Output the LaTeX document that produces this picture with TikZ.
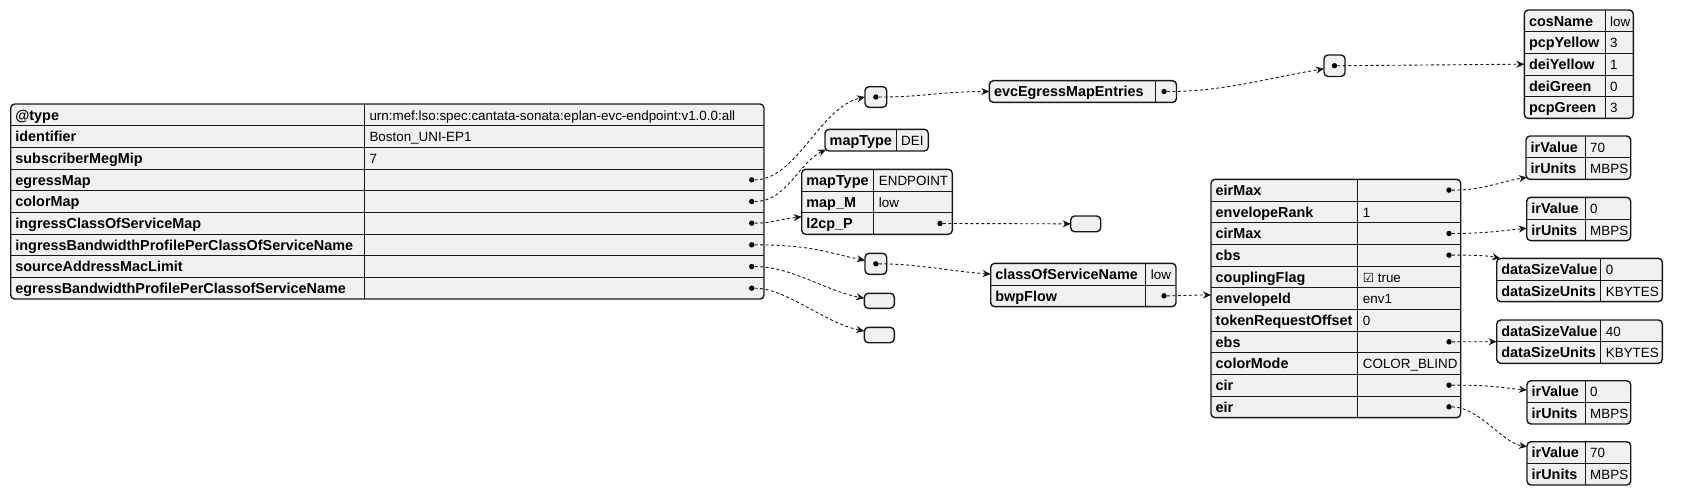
\documentclass[tikz,border=0pt]{standalone}
\usepackage{fontspec}
\setmainfont{Liberation Sans}
\newfontfamily\symfont{DejaVu Sans}
\usetikzlibrary{arrows.meta,calc}
\definecolor{jfill}{HTML}{F1F1F1}
\definecolor{jline}{HTML}{181818}
\newcount\jn
\newcommand\jtab[6]{% name, x0, y0, x1, xdiv, rows
  \pgfmathsetmacro\jH{#6*21.67}%
  \pgfmathsetmacro\jW{#4-#2}%
  \node[tbl, minimum width=\jW pt, minimum height=\jH pt] (#1) at (#2,#3) {};%
  \ifnum#6>1
    \foreach \i in {2,...,#6}{\draw[inl] (#2,{#3+(\i-1)*21.67}) -- (#4,{#3+(\i-1)*21.67});}%
  \fi
  \draw[inl] (#5,#3) -- (#5,{#3+\jH});%
}
\newcommand\jkv[6]{% x0, xdiv, y0, row, key, value
  \global\advance\jn by 1
  \node[keyt] (k\the\jn) at ({#1+4.5},{#3+#4*21.67-5.6}) {#5};%
  \node[valt] (v\the\jn) at ({#2+5},{#3+#4*21.67-5.6}) {#6};%
}
\newcommand\jdot[4]{\node[dotn] (#1) at (#2,{#3+#4*21.67-10.83}) {};}
\begin{document}
\begin{tikzpicture}[x=1pt,y=-1pt,
  tbl/.style={draw=jline, fill=jfill, line width=1.4pt, rounded corners=4pt, anchor=north west, inner sep=0pt, outer sep=0pt},
  inl/.style={draw=jline, line width=0.9pt},
  keyt/.style={font=\bfseries\fontsize{14.4}{16}\selectfont, anchor=base west, inner sep=0pt, text=black},
  valt/.style={font=\fontsize{13.4}{16}\selectfont, anchor=base west, inner sep=0pt, text=black},
  dotn/.style={circle, fill=black, inner sep=0pt, minimum size=5.4pt},
  conn/.style={draw=jline, line width=0.9pt, dash pattern=on 3pt off 2.5pt, -{Stealth[length=8pt,width=7pt,inset=2.5pt]}}]
\useasboundingbox (0,0) rectangle (1692,495);

% main table
\jtab{main}{10.7}{104}{764}{364.3}{9}
\jkv{10.7}{364.3}{104}{1}{@type}{urn:mef:lso:spec:cantata-sonata:eplan-evc-endpoint:v1.0.0:all}
\jkv{10.7}{364.3}{104}{2}{identifier}{Boston\_UNI-EP1}
\jkv{10.7}{364.3}{104}{3}{subscriberMegMip}{7}
\jkv{10.7}{364.3}{104}{4}{egressMap}{}
\jkv{10.7}{364.3}{104}{5}{colorMap}{}
\jkv{10.7}{364.3}{104}{6}{ingressClassOfServiceMap}{}
\jkv{10.7}{364.3}{104}{7}{ingressBandwidthProfilePerClassOfServiceName}{}
\jkv{10.7}{364.3}{104}{8}{sourceAddressMacLimit}{}
\jkv{10.7}{364.3}{104}{9}{egressBandwidthProfilePerClassofServiceName}{}
\jdot{m4}{751.7}{104}{4}
\jdot{m5}{751.7}{104}{5}
\jdot{m6}{751.7}{104}{6}
\jdot{m7}{751.7}{104}{7}
\jdot{m8}{751.7}{104}{8}
\jdot{m9}{751.7}{104}{9}

% egressMap array
\node[tbl, minimum width=21.7pt, minimum height=20.6pt] (dA) at (865,86.7) {};
\node[dotn] (dAd) at (dA.center) {};
\jtab{evc}{989.3}{80.7}{1176.5}{1155}{1}
\jkv{989.3}{1155}{80.7}{1}{evcEgressMapEntries}{}
\jdot{evcd}{1164}{80.7}{1}
\node[tbl, minimum width=21pt, minimum height=21.5pt] (dB) at (1324,55) {};
\node[dotn] (dBd) at (dB.center) {};
\jtab{cos}{1524.3}{10}{1633.3}{1605}{5}
\jkv{1524.3}{1605}{10}{1}{cosName}{low}
\jkv{1524.3}{1605}{10}{2}{pcpYellow}{3}
\jkv{1524.3}{1605}{10}{3}{deiYellow}{1}
\jkv{1524.3}{1605}{10}{4}{deiGreen}{0}
\jkv{1524.3}{1605}{10}{5}{pcpGreen}{3}

% colorMap
\jtab{dei}{825}{129.3}{928.3}{896}{1}
\jkv{825}{896}{129.3}{1}{mapType}{DEI}

% ingressClassOfServiceMap
\jtab{endp}{801.7}{169.3}{952.3}{873.7}{3}
\jkv{801.7}{873.7}{169.3}{1}{mapType}{ENDPOINT}
\jkv{801.7}{873.7}{169.3}{2}{map\_M}{low}
\jkv{801.7}{873.7}{169.3}{3}{l2cp\_P}{}
\jdot{l2cp}{940}{169.3}{3}
\node[tbl, minimum width=30pt, minimum height=15.7pt] (e1) at (1070.7,216) {};

% ingressBandwidthProfilePerClassOfServiceName
\node[tbl, minimum width=21.7pt, minimum height=21pt] (dC) at (865,253.3) {};
\node[dotn] (dCd) at (dC.center) {};
\jtab{cosn}{990.7}{263.3}{1176}{1145.7}{2}
\jkv{990.7}{1145.7}{263.3}{1}{classOfServiceName}{low}
\jkv{990.7}{1145.7}{263.3}{2}{bwpFlow}{}
\jdot{bwpd}{1164}{263.3}{2}

\jtab{bwp}{1211}{179.3}{1460.7}{1357.7}{11}
\jkv{1211}{1357.7}{179.3}{1}{eirMax}{}
\jkv{1211}{1357.7}{179.3}{2}{envelopeRank}{1}
\jkv{1211}{1357.7}{179.3}{3}{cirMax}{}
\jkv{1211}{1357.7}{179.3}{4}{cbs}{}
\jkv{1211}{1357.7}{179.3}{5}{couplingFlag}{{\symfont\fontsize{12.5}{16}\selectfont ☑}~true}
\jkv{1211}{1357.7}{179.3}{6}{envelopeId}{env1}
\jkv{1211}{1357.7}{179.3}{7}{tokenRequestOffset}{0}
\jkv{1211}{1357.7}{179.3}{8}{ebs}{}
\jkv{1211}{1357.7}{179.3}{9}{colorMode}{COLOR\_BLIND}
\jkv{1211}{1357.7}{179.3}{10}{cir}{}
\jkv{1211}{1357.7}{179.3}{11}{eir}{}
\jdot{b1}{1449}{179.3}{1}
\jdot{b3}{1449}{179.3}{3}
\jdot{b4}{1449}{179.3}{4}
\jdot{b8}{1449}{179.3}{8}
\jdot{b10}{1449}{179.3}{10}
\jdot{b11}{1449}{179.3}{11}

\jtab{ir1}{1526}{136}{1630.7}{1585}{2}
\jkv{1526}{1585}{136}{1}{irValue}{70}
\jkv{1526}{1585}{136}{2}{irUnits}{MBPS}
\jtab{ir2}{1526.7}{197.3}{1630.7}{1585}{2}
\jkv{1526.7}{1585}{197.3}{1}{irValue}{0}
\jkv{1526.7}{1585}{197.3}{2}{irUnits}{MBPS}
\jtab{ds1}{1496.7}{258.3}{1662.3}{1600.7}{2}
\jkv{1496.7}{1600.7}{258.3}{1}{dataSizeValue}{0}
\jkv{1496.7}{1600.7}{258.3}{2}{dataSizeUnits}{KBYTES}
\jtab{ds2}{1496.7}{320}{1662.3}{1600.7}{2}
\jkv{1496.7}{1600.7}{320}{1}{dataSizeValue}{40}
\jkv{1496.7}{1600.7}{320}{2}{dataSizeUnits}{KBYTES}
\jtab{ir3}{1527}{380.7}{1630.7}{1585}{2}
\jkv{1527}{1585}{380.7}{1}{irValue}{0}
\jkv{1527}{1585}{380.7}{2}{irUnits}{MBPS}
\jtab{ir4}{1527}{441.7}{1630.7}{1585}{2}
\jkv{1527}{1585}{441.7}{1}{irValue}{70}
\jkv{1527}{1585}{441.7}{2}{irUnits}{MBPS}

\node[tbl, minimum width=30pt, minimum height=15pt] (e2) at (864.3,293.3) {};
\node[tbl, minimum width=30pt, minimum height=15.4pt] (e3) at (864.3,327.3) {};

% connectors
\draw[conn] (m4) .. controls +(45,0) and +(-45,10) .. (dA.west);
\draw[conn] (m5) .. controls +(35,0) and +(-28,14) .. ($(dei.south west)+(1,-1.5)$);
\draw[conn] (m6) .. controls +(20,0) and +(-20,2) .. ($(endp.west)+(0,15)$);
\draw[conn] (m7) .. controls +(60,0) and +(-40,-8) .. ($(dC.west)+(0,-3.5)$);
\draw[conn] (m8) .. controls +(40,0) and +(-40,-8) .. ($(e2.west)+(0,-2.5)$);
\draw[conn] (m9) .. controls +(35,0) and +(-40,-8) .. ($(e3.west)+(0,-4)$);
\draw[conn] (dAd) .. controls +(50,0) and +(-50,0) .. (evc.west);
\draw[conn] (evcd) .. controls +(60,0) and +(-60,10) .. ($(dB.west)+(0,3)$);
\draw[conn] (dBd) -- (cos.west);
\draw[conn] (l2cp) -- (e1.west);
\draw[conn] (dCd) .. controls +(40,0) and +(-40,-3) .. ($(cosn.west)+(0,-10.8)$);
\draw[conn] (bwpd) .. controls +(20,0) and +(-20,0) .. ($(bwp.west)+(0,-3.5)$);
\draw[conn] (b1) .. controls +(35,0) and +(-30,5) .. ($(ir1.south west)+(1,-2)$);
\draw[conn] (b3) .. controls +(35,0) and +(-30,3) .. ($(ir2.west)+(0,9.3)$);
\draw[conn] (b4) .. controls +(25,0) and +(-15,-3) .. ($(ds1.north west)+(3.5,0)$);
\draw[conn] (b8) -- (ds2.west);
\draw[conn] (b10) .. controls +(40,0) and +(-40,-4) .. ($(ir3.west)+(0,-12.3)$);
\draw[conn] (b11) .. controls +(30,0) and +(-25,-4) .. ($(ir4.west)+(0,-16.7)$);
\end{tikzpicture}
\end{document}
